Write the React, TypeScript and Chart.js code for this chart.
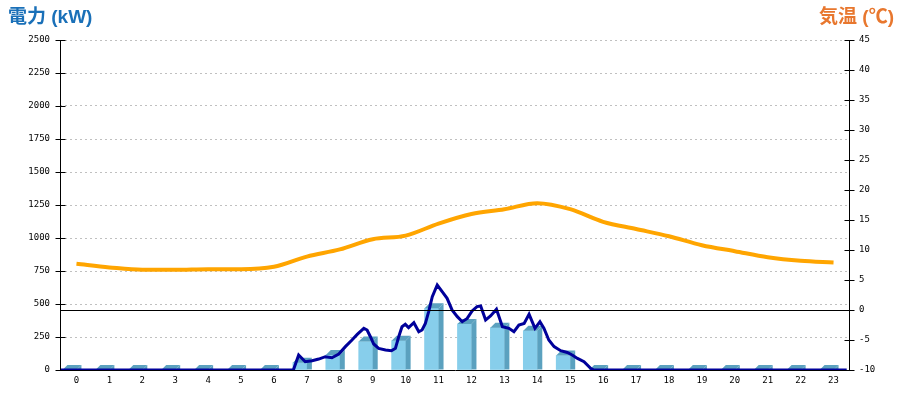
import React, { useEffect, useRef } from "react";
import { Chart, registerables } from "chart.js";

Chart.register(...registerables);

// ---- data ----
const hourLabels = [
  "0", "1", "2", "3", "4", "5", "6", "7", "8", "9", "10", "11",
  "12", "13", "14", "15", "16", "17", "18", "19", "20", "21", "22", "23",
];

// hourly energy bars (kW)
const hourlyPowerKW = [
  0, 0, 0, 0, 0, 0, 0, 55, 114, 215, 222, 467,
  348, 321, 297, 109, 0, 0, 0, 0, 0, 0, 0, 0,
];

// hourly temperature (°C)
const temperatureC = [
  7.7, 7.1, 6.7, 6.7, 6.8, 6.8, 7.2, 8.9, 10.1, 11.8, 12.4, 14.4,
  16.0, 16.8, 17.8, 16.8, 14.7, 13.5, 12.3, 10.8, 9.8, 8.8, 8.2, 7.9,
];

// instantaneous power: time (hour of day) and value (kW)
const powerTimes = [
  -0.5, 6.59, 6.75, 6.95, 7.16, 7.36, 7.56, 7.76, 7.97, 8.17, 8.37,
  8.53, 8.73, 8.83, 8.93, 9.03, 9.18, 9.39, 9.57, 9.69, 9.79, 9.89,
  9.99, 10.09, 10.25, 10.4, 10.5, 10.6, 10.7, 10.81, 10.96, 11.11,
  11.26, 11.41, 11.57, 11.72, 11.87, 12.02, 12.17, 12.28, 12.43, 12.58,
  12.76, 12.94, 13.14, 13.29, 13.44, 13.6, 13.75, 13.93, 14.08, 14.2,
  14.35, 14.51, 14.71, 14.91, 15.06, 15.22, 15.42, 15.62, 15.72, 23.4,
];
const powerKW = [
  0, 0, 114, 63, 70, 83, 101, 93, 121, 177, 227,
  270, 316, 303, 252, 197, 164, 152, 146, 164, 252, 328,
  346, 321, 358, 290, 303, 353, 442, 555, 644, 593,
  543, 455, 404, 366, 391, 447, 480, 485, 379, 409,
  460, 328, 316, 290, 341, 353, 422, 316, 366, 316,
  227, 177, 146, 133, 114, 88, 63, 13, 0, 0,
];

const powerAxisMin = 0;
const powerAxisMax = 2500;
const powerAxisStep = 250;
const tempAxisMin = -10;
const tempAxisMax = 45;
const tempAxisStep = 5;

// ---- styles ----
const BAR_FRONT = "#87CEEB";
const BAR_SIDE = "#5BA1BF";
const POWER_LINE = "#00009A";
const TEMP_LINE = "#FFA500";
const TICK_FONT = { family: "'DejaVu Sans Mono', monospace", size: 9 };

const bar3dPlugin = {
  id: "bar3d",
  afterDatasetDraw(chart: any, args: any) {
    if (args.index !== 0) return;
    const ctx = chart.ctx;
    const d = 5;
    ctx.save();
    ctx.fillStyle = BAR_SIDE;
    args.meta.data.forEach((el: any) => {
      const { x, y, base, width } = el.getProps(["x", "y", "base", "width"], true);
      const l = x - width / 2;
      const r = x + width / 2;
      ctx.beginPath();
      ctx.moveTo(r, y);
      ctx.lineTo(r + d, y - d);
      ctx.lineTo(r + d, base);
      ctx.lineTo(r, base);
      ctx.closePath();
      ctx.fill();
      ctx.beginPath();
      ctx.moveTo(l, y);
      ctx.lineTo(l + d, y - d);
      ctx.lineTo(r + d, y - d);
      ctx.lineTo(r, y);
      ctx.closePath();
      ctx.fill();
    });
    ctx.restore();
  },
};

// axis lines with ticks crossing them
const axesPlugin = {
  id: "axesCross",
  afterDraw(chart: any) {
    const ctx = chart.ctx;
    const { left, right, top, bottom } = chart.chartArea;
    ctx.save();
    ctx.strokeStyle = "#000";
    ctx.lineWidth = 1;
    ctx.setLineDash([]);
    const lx = Math.round(left) + 0.5;
    const rx = Math.round(right) - 0.5;
    ctx.beginPath();
    ctx.moveTo(lx, top);
    ctx.lineTo(lx, bottom);
    ctx.moveTo(rx, top);
    ctx.lineTo(rx, bottom);
    ctx.stroke();
    const drawFor = (scale: any, axisX: number) => {
      scale.ticks.forEach((t: any) => {
        const py = Math.round(scale.getPixelForValue(t.value)) + 0.5;
        ctx.beginPath();
        ctx.moveTo(axisX - 5, py);
        ctx.lineTo(axisX + 5, py);
        ctx.stroke();
      });
    };
    drawFor(chart.scales.y, lx);
    drawFor(chart.scales.y1, rx);
    ctx.restore();
  },
};

export default function App() {
  const canvasRef = useRef<HTMLCanvasElement | null>(null);

  useEffect(() => {
    if (!canvasRef.current) return;
    const chart = new Chart(canvasRef.current, {
      data: {
        labels: hourLabels,
        datasets: [
          {
            type: "bar",
            label: "hourly",
            data: hourlyPowerKW,
            backgroundColor: BAR_FRONT,
            borderWidth: 0,
            barThickness: 14,
            xAxisID: "x",
            yAxisID: "y",
            order: 3,
          },
          {
            type: "line",
            label: "temp",
            data: temperatureC,
            borderColor: TEMP_LINE,
            borderWidth: 4,
            pointRadius: 0,
            cubicInterpolationMode: "monotone",
            xAxisID: "x",
            yAxisID: "y1",
            order: 2,
          },
          {
            type: "line",
            label: "power",
            data: powerTimes.map((t, i) => ({ x: t, y: powerKW[i] })),
            borderColor: POWER_LINE,
            borderWidth: 3,
            pointRadius: 0,
            tension: 0,
            xAxisID: "xTime",
            yAxisID: "y",
            order: 1,
          },
        ] as any,
      },
      options: {
        animation: false,
        responsive: false,
        maintainAspectRatio: false,
        layout: { padding: { top: 40, left: 0, right: 0, bottom: 0 } },
        plugins: { legend: { display: false }, tooltip: { enabled: false } },
        scales: {
          x: {
            type: "category",
            offset: true,
            afterFit: (s: any) => { s.height = 30; },
            grid: { display: false, drawTicks: false },
            border: { display: true, color: "#000", width: 1 },
            ticks: {
              color: "#000",
              font: TICK_FONT,
              padding: 5,
              autoSkip: false,
              maxRotation: 0,
            },
          },
          xTime: {
            type: "linear",
            display: false,
            min: -0.5,
            max: 23.5,
          },
          y: {
            type: "linear",
            position: "left",
            min: powerAxisMin,
            max: powerAxisMax,
            afterFit: (s: any) => { s.width = 60; },
            afterBuildTicks: (s: any) => {
              const t = [];
              for (let v = powerAxisMin; v <= powerAxisMax; v += powerAxisStep) t.push({ value: v });
              s.ticks = t;
            },
            grid: {
              color: (c: any) => (c.tick && c.tick.value === 0 ? "transparent" : "#c0c0c0"),
              drawTicks: false,
            },
            border: { display: false, dash: [2, 3] },
            ticks: {
              color: "#000",
              font: TICK_FONT,
              padding: 10,
              callback: (v: any) => String(v),
            },
          },
          y1: {
            type: "linear",
            position: "right",
            min: tempAxisMin,
            max: tempAxisMax,
            afterFit: (s: any) => { s.width = 50; },
            afterBuildTicks: (s: any) => {
              const t = [];
              for (let v = tempAxisMin; v <= tempAxisMax; v += tempAxisStep) t.push({ value: v });
              s.ticks = t;
            },
            grid: {
              color: (c: any) => (c.tick && c.tick.value === 0 ? "#000" : "transparent"),
              drawTicks: false,
              z: 1,
            },
            border: { display: false },
            ticks: {
              color: "#000",
              font: TICK_FONT,
              padding: 9,
              callback: (v: any) => String(v),
            },
          },
        },
      } as any,
      plugins: [bar3dPlugin, axesPlugin],
    });
    return () => chart.destroy();
  }, []);

  const titleBase: React.CSSProperties = {
    position: "absolute",
    top: 5,
    fontFamily: "'Liberation Sans', 'Noto Sans CJK JP', sans-serif",
    fontWeight: 700,
    fontSize: 19,
    lineHeight: "24px",
    whiteSpace: "nowrap",
  };

  return (
    <div style={{ position: "absolute", left: 0, top: 0, width: 900, height: 400, background: "#fff" }}>
      <canvas ref={canvasRef} width={900} height={400} style={{ width: 900, height: 400, display: "block" }} />
      <div style={{ ...titleBase, left: 8, color: "#1A70B8" }}>電力 (kW)</div>
      <div style={{ ...titleBase, right: 6, color: "#E8772E" }}>気温 (℃)</div>
    </div>
  );
}
